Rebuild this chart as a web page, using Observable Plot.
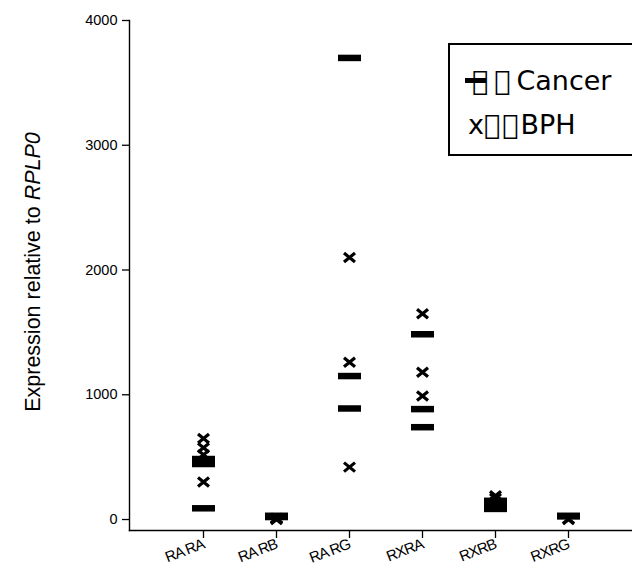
<!DOCTYPE html>
<html>
<head>
<meta charset="utf-8">
<script src="https://cdn.jsdelivr.net/npm/d3@7"></script>
<script src="https://cdn.jsdelivr.net/npm/@observablehq/plot@0.6"></script>
<style>
  html, body { margin: 0; padding: 0; background: #fff; overflow: hidden; }
  #wrap { position: relative; width: 632px; height: 587px; }
  #wrap svg text { fill: #000; }
  #legend {
    position: absolute; left: 448px; top: 43px; width: 200px; height: 109px;
    border: 2px solid #000; background: #fff; box-sizing: content-box;
    font-family: "DejaVu Sans", sans-serif; font-size: 27px; color: #000;
  }
  #legend .row { position: absolute; white-space: pre; line-height: 1; }
  #legend .tofu { letter-spacing: 6px; }
  #legend .dash { position: absolute; left: 15px; top: 33px; width: 21px; height: 5px; background: #000; }
</style>
</head>
<body>
<div id="wrap"></div>
<script>
const categories = ["RA RA", "RA RB", "RA RG", "RXRA", "RXRB", "RXRG"];
const cancerValues = [
  [485, 460, 445, 90],
  [30, 20, 25],
  [3700, 1150, 890],
  [1485, 885, 740],
  [150, 120, 85],
  [30, 25]
];
const bphValues = [
  [650, 575, 520, 300],
  [10, 5, 0],
  [2100, 1260, 420],
  [1650, 1180, 990],
  [190, 170, 140],
  [5, 0]
];
const yTicks = [0, 1000, 2000, 3000, 4000];
const seriesNames = ["Cancer", "BPH"];

const cancer = categories.flatMap((c, i) => cancerValues[i].map(v => ({category: c, value: v})));
const bph = categories.flatMap((c, i) => bphValues[i].map(v => ({category: c, value: v})));

const dashSymbol = {draw(ctx) { ctx.rect(-11.5, -3.25, 23, 6.5); }};
const crossSymbol = {draw(ctx) { ctx.moveTo(-5.5, -4.5); ctx.lineTo(5.5, 4.5); ctx.moveTo(5.5, -4.5); ctx.lineTo(-5.5, 4.5); }};

const chart = Plot.plot({
  width: 632,
  height: 587,
  marginLeft: 129,
  marginRight: -10,
  marginTop: 20,
  marginBottom: 57,
  style: {fontFamily: "'Liberation Sans', Arial, sans-serif", color: "#000", background: "#fff"},
  x: {type: "point", domain: categories, padding: 1},
  y: {domain: [-88, 4000]},
  marks: [
    Plot.frame({anchor: "left", stroke: "#000", strokeWidth: 1.4}),
    Plot.frame({anchor: "bottom", stroke: "#000", strokeWidth: 1.4}),
    Plot.axisY({ticks: yTicks, tickFormat: d => String(d), tickSize: 7, tickPadding: 5, fontSize: 14, label: null, strokeWidth: 1.3}),
    Plot.axisX({tickSize: 8, tickPadding: 5, tickRotate: -21, fontSize: 15, label: null, strokeWidth: 1.3}),
    Plot.dot(bph, {x: "category", y: "value", symbol: crossSymbol, r: 5, stroke: "#000", strokeWidth: 3.2, fill: "none"}),
    Plot.dot(cancer, {x: "category", y: "value", symbol: dashSymbol, r: 5, fill: "#000", stroke: "none"})
  ]
});

const wrap = document.getElementById("wrap");
wrap.appendChild(chart);

const svg = d3.select(chart);
// enforce tick label font sizes
const yLabelSet = new Set(yTicks.map(String));
const xLabelSet = new Set(categories);
svg.selectAll("text").each(function () {
  const s = this.textContent;
  if (yLabelSet.has(s)) { this.style.fontSize = "14.5px"; }
  else if (xLabelSet.has(s)) { this.style.fontSize = "15px"; this.style.letterSpacing = "-0.9px"; }
});

// y-axis title with italic gene name
const t = svg.append("text")
  .attr("transform", "translate(40,272) rotate(-90)")
  .attr("text-anchor", "middle")
  .attr("font-family", "'Liberation Sans', Arial, sans-serif")
  .attr("font-size", 21.5)
  .attr("fill", "#000");
t.append("tspan").text("Expression relative to ");
t.append("tspan").attr("font-style", "italic").text("RPLP0");

// legend
const legend = document.createElement("div");
legend.id = "legend";
legend.innerHTML =
  `<div class="dash"></div>` +
  `<div class="row" style="top:22px;left:22px"><span class="tofu">\uE000\uE001</span>${seriesNames[0]}</div>` +
  `<div class="row" style="top:66px;left:18px">x<span style="letter-spacing:2px">\uE000\uE001</span>${seriesNames[1]}</div>`;
wrap.appendChild(legend);
</script>
</body>
</html>
